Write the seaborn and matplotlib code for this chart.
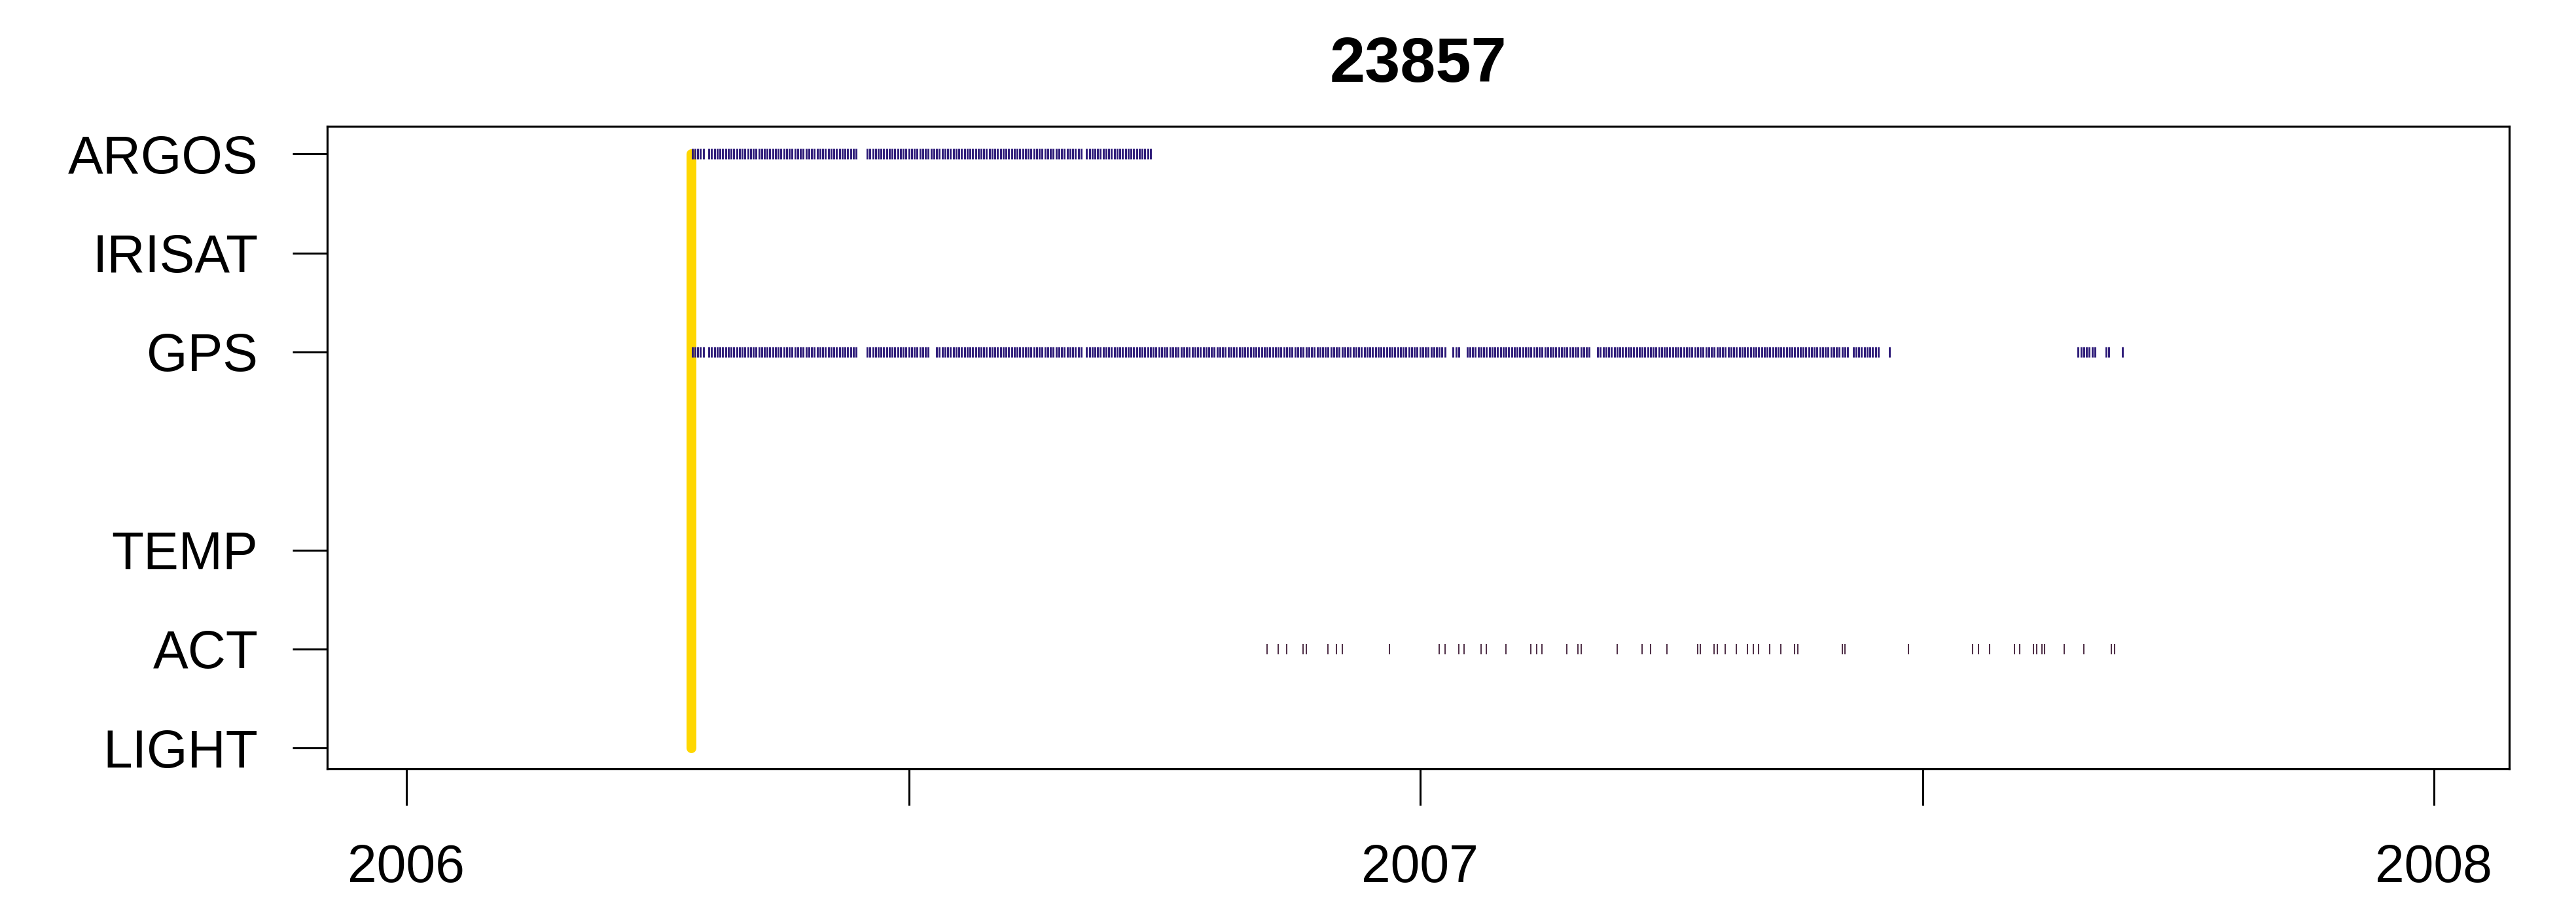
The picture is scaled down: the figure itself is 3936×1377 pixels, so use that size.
import numpy as np
import pandas as pd
import matplotlib
matplotlib.use("Agg")
import matplotlib.pyplot as plt
import matplotlib.dates as mdates
import seaborn as sns

# ---------------- data ----------------
title = "23857"
sensors = ["ARGOS", "IRISAT", "GPS", "TEMP", "ACT", "LIGHT"]
sensor_levels = [7, 6, 5, 3, 2, 1]

deploy_date = "2006-04-13 14:00"

# daily observation runs (first day, last day)
argos_runs = [("2006-04-14", "2006-04-18"), ("2006-04-20", "2006-06-12"),
              ("2006-06-16", "2006-09-01"), ("2006-09-03", "2006-09-26")]
gps_runs = [("2006-04-14", "2006-04-18"), ("2006-04-20", "2006-06-12"),
            ("2006-06-16", "2006-07-08"), ("2006-07-11", "2006-09-01"),
            ("2006-09-03", "2007-01-10"), ("2007-01-13", "2007-01-15"),
            ("2007-01-18", "2007-03-03"), ("2007-03-06", "2007-06-04"),
            ("2007-06-06", "2007-06-15"), ("2007-06-19", "2007-06-19"),
            ("2007-08-26", "2007-09-01"), ("2007-09-05", "2007-09-06"),
            ("2007-09-11", "2007-09-11")]
act_dates = ["2006-11-07", "2006-11-11", "2006-11-14", "2006-11-20", "2006-11-21",
             "2006-11-29", "2006-12-02", "2006-12-04", "2006-12-21",
             "2007-01-08", "2007-01-10", "2007-01-15", "2007-01-17", "2007-01-23",
             "2007-01-25", "2007-02-01", "2007-02-10", "2007-02-12", "2007-02-14",
             "2007-02-23", "2007-02-27", "2007-02-28", "2007-03-13", "2007-03-22",
             "2007-03-25", "2007-03-31", "2007-04-11", "2007-04-12", "2007-04-17",
             "2007-04-18", "2007-04-21", "2007-04-25", "2007-04-29", "2007-05-01",
             "2007-05-03", "2007-05-07", "2007-05-11", "2007-05-16", "2007-05-17",
             "2007-06-02", "2007-06-03", "2007-06-26", "2007-07-19", "2007-07-21",
             "2007-07-25", "2007-08-03", "2007-08-05", "2007-08-10", "2007-08-11",
             "2007-08-13", "2007-08-14", "2007-08-21", "2007-08-28", "2007-09-07",
             "2007-09-08"]

year_ticks = ["2006-01-01", "2007-01-01", "2008-01-01"]
year_labels = ["2006", "2007", "2008"]
half_ticks = ["2006-07-01", "2007-07-01"]

# ---------------- build tables ----------------
level = dict(zip(sensors, sensor_levels))

def expand(runs):
    out = []
    for a, b in runs:
        out.extend(pd.date_range(a, b, freq="D"))
    return out

rows = []
for d in expand(argos_runs):
    rows.append((d, level["ARGOS"], "ARGOS"))
for d in expand(gps_runs):
    rows.append((d, level["GPS"], "GPS"))
pos_df = pd.DataFrame(rows, columns=["date", "level", "sensor"])
act_df = pd.DataFrame({"date": pd.to_datetime(act_dates),
                       "level": level["ACT"]})
deploy_df = pd.DataFrame({"date": pd.to_datetime([deploy_date, deploy_date]),
                          "level": [level["LIGHT"], level["ARGOS"]]})

# ---------------- plot ----------------
sns.set_style("white")
plt.rcParams["font.family"] = ["Liberation Sans", "DejaVu Sans"]
plt.rcParams["text.color"] = "black"

W, H = 3937, 1377
fig = plt.figure(figsize=(W / 100, H / 100), dpi=100)
ax = fig.add_axes([500 / W, 1 - 1175 / H, (3834 - 500) / W, (1175 - 193) / H])

sns.lineplot(data=deploy_df, x="date", y="level", estimator=None, sort=False,
             color="#FFD700", linewidth=10.8, solid_capstyle="round", ax=ax,
             zorder=3)
sns.scatterplot(data=pos_df, x="date", y="level", marker="|", s=133,
                linewidth=2.1, color="#2c1a78", ax=ax, zorder=4, legend=False)
sns.scatterplot(data=act_df, x="date", y="level", marker="|", s=133,
                linewidth=1.3, color="#3e1a35", ax=ax, zorder=4, legend=False)

x0 = pd.Timestamp(year_ticks[0])
x1 = pd.Timestamp(year_ticks[-1])
ax.set_xlim(x0 - pd.Timedelta(days=28.4), x1 + pd.Timedelta(days=27.2))
ax.set_ylim(0.79, 7.28)

ax.set_yticks(sensor_levels)
ax.set_yticklabels(sensors)
ax.set_xticks(pd.to_datetime(year_ticks))
ax.set_xticklabels(year_labels)
ax.set_xticks(pd.to_datetime(half_ticks), minor=True)

ax.tick_params(axis="y", which="major", length=38, width=2.2, pad=38,
               labelsize=58, colors="black", left=True, direction="out")
ax.tick_params(axis="x", which="both", length=40, width=2.2, pad=42,
               labelsize=58, colors="black", bottom=True, direction="out")
ax.set_xlabel("")
ax.set_ylabel("")
for s in ax.spines.values():
    s.set_visible(True)
    s.set_linewidth(2.3)
    s.set_color("black")

fig.text((500 + 3834) / 2 / W, 1 - 100 / H, title, ha="center", va="center",
         fontsize=70, fontweight="bold", color="black")

fig.savefig("out.png", dpi=100, facecolor="white")
